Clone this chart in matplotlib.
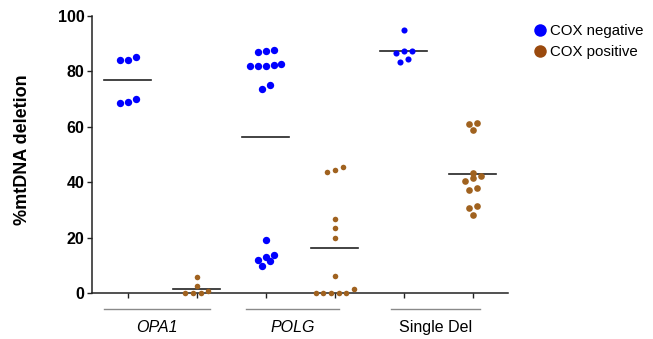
import matplotlib.pyplot as plt
from matplotlib.lines import Line2D
import numpy as np

plt.rcParams['font.family'] = ['Liberation Sans', 'DejaVu Sans']

groups = ["OPA1", "POLG", "Single Del"]

# %mtDNA deletion per fibre
opa1_neg = [84.2, 84.0, 85.1, 70.0, 68.6, 68.8]
opa1_pos = [2.6, 5.8, 0.1, 0.0, 0.1, 0.6]
polg_neg = [87.5, 86.9, 87.7, 82.7, 82.0, 81.9, 81.9, 82.4, 75.2, 73.7,
            19.2, 13.7, 13.1, 11.9, 11.7, 9.7]
polg_pos = [44.3, 43.8, 45.5, 26.7, 23.5, 19.9, 6.1, 0.0, 0.0, 0.0, 0.0, 0.0, 1.3]
sdel_neg = [94.8, 87.2, 86.5, 87.4, 83.4, 84.5]
sdel_pos = [61.4, 61.0, 58.8, 43.2, 41.5, 42.2, 40.3, 37.2, 37.9, 31.3, 30.6, 28.0]

blue = "#0000ff"
brown = "#a0621f"


def swarm(vals, tol=2.1, step=0.112):
    # simple scatter-dot layout: points close in value share a row
    vals = np.array(vals, dtype=float)
    order = np.argsort(vals)
    offs = np.zeros(len(vals))
    i = 0
    while i < len(order):
        j = i
        while j + 1 < len(order) and vals[order[j + 1]] - vals[order[i]] <= tol:
            j += 1
        n = j - i + 1
        for k in range(n):
            offs[order[i + k]] = (k - (n - 1) / 2) * step
        i = j + 1
    return offs


fig = plt.figure(figsize=(6.53, 3.39), dpi=100)
ax = fig.add_axes([92 / 653, 1 - 293 / 339, (508 - 92) / 653, (293 - 16) / 339])

series = [(opa1_neg, blue, 5.3), (opa1_pos, brown, 4.0),
          (polg_neg, blue, 5.3), (polg_pos, brown, 4.0),
          (sdel_neg, blue, 4.4), (sdel_pos, brown, 4.8)]

for pos, (vals, col, ms) in enumerate(series):
    x = pos + swarm(vals)
    ax.plot(x, vals, "o", color=col, ms=ms, mec="none", clip_on=False, zorder=3)
    m = np.mean(vals)
    ax.plot([pos - 0.34, pos + 0.34], [m, m], color="#222222", lw=1.2, zorder=2)

ax.set_xlim(-0.52, 5.51)
ax.set_ylim(0, 100)
ax.set_yticks([0, 20, 40, 60, 80, 100])
ax.set_xticks(range(6))
ax.set_xticklabels([])
ax.tick_params(axis="both", length=3.5, width=1, direction="out", color="#222222")
ax.tick_params(axis="y", labelsize=11.5, pad=2)
for lab in ax.get_yticklabels():
    lab.set_fontweight("bold")
for s in ["top", "right"]:
    ax.spines[s].set_visible(False)
for s in ["left", "bottom"]:
    ax.spines[s].set_linewidth(1.1)
    ax.spines[s].set_color("#222222")

# group brackets and labels under the axis
trans = ax.get_xaxis_transform()
spans = [(-0.34, 1.19), (1.71, 3.06), (3.81, 5.11)]
for name, (a, b) in zip(groups, spans):
    ax.plot([a, b], [-0.058, -0.058], color="#8a8a8a", lw=1, transform=trans, clip_on=False)
    style = "normal" if name == "Single Del" else "italic"
    ax.text((a + b) / 2, -0.125, name, transform=trans, ha="center", va="center",
            fontsize=11.5, style=style)

fig.text(23 / 653, 1 - 150 / 339, "%mtDNA deletion", rotation=90, ha="center",
         va="center", fontsize=13, fontweight="bold")

handles = [Line2D([], [], marker="o", ls="none", color=blue, ms=9, mec="none"),
           Line2D([], [], marker="o", ls="none", color="#9a4a0e", ms=9, mec="none")]
fig.legend(handles, ["COX negative", "COX positive"], loc="upper left",
           bbox_to_anchor=(526 / 653, 1 - 18 / 339), frameon=False, fontsize=10.8,
           handletextpad=0.2, labelspacing=0.45, borderaxespad=0, handlelength=1.0)

fig.savefig("out.png", dpi=100)
